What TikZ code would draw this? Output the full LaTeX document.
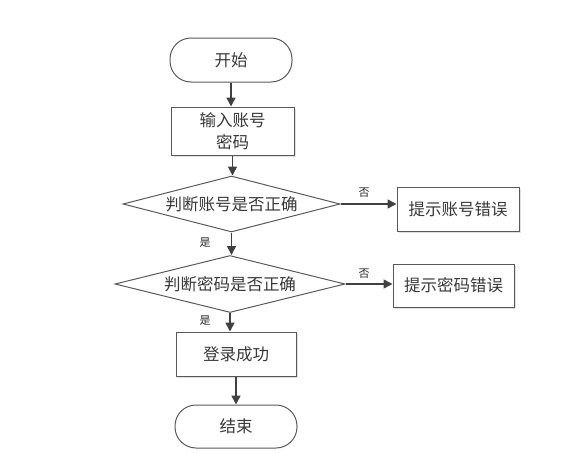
\documentclass[tikz,border=0pt]{standalone}
\usepackage{fontspec}
\newfontfamily\cjk{Noto Sans CJK SC}
\usetikzlibrary{shapes.geometric,arrows.meta,shadows}
\begin{document}
\begin{tikzpicture}[x=1pt,y=-1pt,
  every node/.style={font=\cjk\fontsize{16.5}{22}\selectfont, text=black!78},
  term/.style={draw=black!65, line width=1pt, rounded corners=21pt, inner sep=0pt},
  procbox/.style={draw=black!65, line width=1pt, inner sep=0pt, fill=white,
    drop shadow={shadow xshift=1.5pt, shadow yshift=-1.5pt, fill=black!12, opacity=1}},
  decide/.style={draw=black!65, line width=1pt, diamond, shape aspect=3.9, inner sep=0pt},
  flow/.style={draw=black!75, line width=1.6pt, -{Triangle[length=9pt,width=9pt]}},
  lbl/.style={font=\cjk\fontsize{11}{12}\selectfont, text=black!85}]
\useasboundingbox (0,0) rectangle (582,453);
\node[term, minimum width=122pt, minimum height=44pt] (start) at (231,60) {开始};
\node[procbox, minimum width=123pt, minimum height=48pt, align=center] (input) at (232.5,131) {输入账号\\密码};
\node[decide, minimum width=217pt, minimum height=56pt] (d1) at (231.5,204) {判断账号是否正确};
\node[procbox, minimum width=122pt, minimum height=44pt] (err1) at (458,209) {提示账号错误};
\node[decide, minimum width=230pt, minimum height=57pt] (d2) at (230,284) {判断密码是否正确};
\node[procbox, minimum width=121pt, minimum height=43pt] (err2) at (453.5,285.5) {提示密码错误};
\node[procbox, minimum width=120pt, minimum height=44pt] (ok) at (236,354) {登录成功};
\node[term, minimum width=122pt, minimum height=43pt] (end) at (236,426.5) {结束};
\draw[flow] (start.south) -- (start.south |- input.north);
\draw[flow] (input.south) -- (input.south |- d1.north);
\draw[flow] (d1.east) -- (d1.east -| err1.west);
\draw[flow] (d1.south) -- (d1.south |- d2.north);
\draw[flow] (d2.east) -- (d2.east -| err2.west);
\draw[flow] (d2.south) -- (d2.south |- ok.north);
\draw[flow] (ok.south) -- (ok.south |- end.north);
\node[lbl] (n1) at (364,193) {否};
\node[lbl] (n2) at (364,274) {否};
\node[lbl] (y1) at (205,243) {是};
\node[lbl] (y2) at (205,321) {是};
\end{tikzpicture}
\end{document}
